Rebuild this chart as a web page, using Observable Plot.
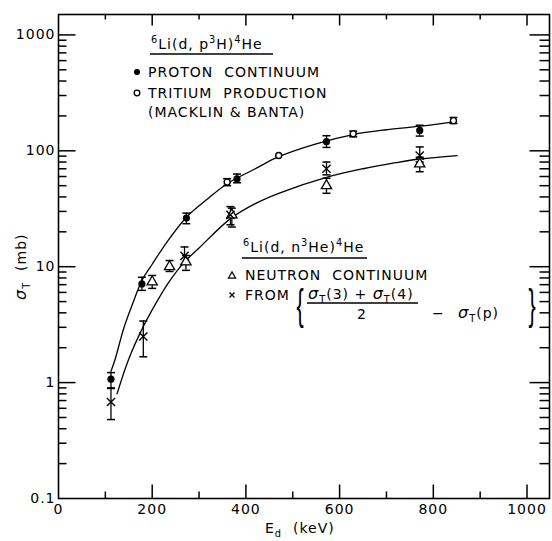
<!DOCTYPE html>
<html><head><meta charset="utf-8">
<script src="https://cdn.jsdelivr.net/npm/d3@7"></script>
<script src="https://cdn.jsdelivr.net/npm/@observablehq/plot@0.6"></script>
<style>body{margin:0;background:#fff}</style>
</head><body><div id="chart"></div>
<script>
// ---- data ----
const protonE    = [112, 178, 273, 381, 572, 771];
const protonV    = [1.07, 7.1, 26.3, 57.4, 120, 150];
const protonLo   = [0.89, 6.25, 23.5, 53, 107, 134];
const protonHi   = [1.22, 8.1, 29, 63, 135, 166];

const tritiumE   = [360, 470, 629, 843];
const tritiumV   = [53.7, 91, 140, 182];
const tritiumLo  = [50, null, 132, 172];
const tritiumHi  = [57.5, null, 148, 194];

const neutronE   = [200, 237, 272, 370, 572, 771];
const neutronV   = [7.4, 10, 11, 28, 50, 77];
const neutronLo  = [6.5, 9.1, 9.3, 22, 43, 66];
const neutronHi  = [8.4, 11.3, 12.5, 32, 58, 88];

const fromE      = [112, 181, 269, 367, 572, 771];
const fromV      = [0.68, 2.5, 12.4, 28, 70, 91];
const fromLo     = [0.48, 1.67, 10.5, 23, 62, 80];
const fromHi     = [0.9, 3.4, 14.8, 33, 80, 108];

const curvePE = [112, 121, 140, 160, 178, 200, 230, 274, 320, 360, 420, 470, 550, 629, 700, 771, 843];
const curvePV = [1.25, 1.6, 3.0, 5.0, 7.6, 10.5, 16, 27, 39, 52, 70, 89, 115, 138, 152, 163, 178];
const curveNE = [125, 150, 182, 210, 237, 269, 300, 367, 420, 470, 572, 650, 720, 771, 851];
const curveNV = [0.8, 1.6, 3.1, 5.0, 7.5, 11, 14.5, 26, 35, 43, 59, 70, 79, 85, 91];

const xLabelTicks = [0, 200, 400, 600, 800, 1000];
const xMajorTicks = [200, 400, 600, 800, 1000];
const xMinorTicks = [100, 300, 500, 700, 900];
const yLabelTicks = [0.1, 1, 10, 100, 1000];
const yMajorTicks = [1, 10, 100, 1000];
const yMinorTicks = [0.2,0.3,0.4,0.5,0.6,0.7,0.8,0.9, 2,3,4,5,6,7,8,9, 20,30,40,50,60,70,80,90, 200,300,400,500,600,700,800,900];

// ---- tables ----
const mk = (E, V, Lo, Hi) => E.map((e, i) => ({e, v: V[i], lo: Lo[i], hi: Hi[i]}));
const proton = mk(protonE, protonV, protonLo, protonHi);
const tritium = mk(tritiumE, tritiumV, tritiumLo, tritiumHi);
const neutron = mk(neutronE, neutronV, neutronLo, neutronHi);
const fromX = mk(fromE, fromV, fromLo, fromHi);
const curveP = curvePE.map((e, i) => ({e, v: curvePV[i]}));
const curveN = curveNE.map((e, i) => ({e, v: curveNV[i]}));
const allBars = [...proton, ...tritium, ...neutron, ...fromX];

// custom line symbols
const seg = (dx, dy) => ({draw(ctx) { ctx.moveTo(0, 0); ctx.lineTo(dx, dy); }});
const cap = {draw(ctx) { ctx.moveTo(-4, 0); ctx.lineTo(4, 0); }};
const tk = {fill: "none", stroke: "black", strokeWidth: 1.5};

const FONT = "DejaVu Sans";

const plot = Plot.plot({
  width: 552, height: 541,
  marginLeft: 58, marginRight: 3, marginTop: 14, marginBottom: 43,
  style: {fontFamily: FONT, fontSize: "14px", letterSpacing: "1px", background: "white", color: "black"},
  x: {domain: [0, 1048]},
  y: {type: "log", domain: [0.1, 1500]},
  marks: [
    Plot.frame({stroke: "black", strokeWidth: 1.6}),
    Plot.axisX({ticks: xLabelTicks, tickSize: 0, tickPadding: 6, label: null, tickFormat: d => String(d)}),
    Plot.axisY({ticks: yLabelTicks, tickSize: 0, tickPadding: 3, label: null, tickFormat: d => String(d)}),
    // inward ticks
    Plot.dot(xMajorTicks, {x: d => d, frameAnchor: "bottom", symbol: seg(0, -14), ...tk}),
    Plot.dot(xMinorTicks, {x: d => d, frameAnchor: "bottom", symbol: seg(0, -7), ...tk}),
    Plot.dot(xMajorTicks, {x: d => d, frameAnchor: "top", symbol: seg(0, 11), ...tk}),
    Plot.dot(xMinorTicks, {x: d => d, frameAnchor: "top", symbol: seg(0, 5), ...tk}),
    Plot.dot(yMajorTicks, {y: d => d, frameAnchor: "left", symbol: seg(17, 0), ...tk}),
    Plot.dot(yMinorTicks, {y: d => d, frameAnchor: "left", symbol: seg(8, 0), ...tk}),
    Plot.dot(yMajorTicks, {y: d => d, frameAnchor: "right", symbol: seg(-20, 0), ...tk}),
    Plot.dot(yMinorTicks, {y: d => d, frameAnchor: "right", symbol: seg(-10, 0), ...tk}),
    // curves
    Plot.line(curveP, {x: "e", y: "v", curve: "catmull-rom", stroke: "black", strokeWidth: 1.3}),
    Plot.line(curveN, {x: "e", y: "v", curve: "catmull-rom", stroke: "black", strokeWidth: 1.3}),
    // error bars
    Plot.ruleX(allBars.filter(d => d.lo != null), {x: "e", y1: "lo", y2: "hi", stroke: "black", strokeWidth: 1.3}),
    Plot.dot(allBars.filter(d => d.lo != null), {x: "e", y: "lo", symbol: cap, fill: "none", stroke: "black", strokeWidth: 1.5}),
    Plot.dot(allBars.filter(d => d.hi != null), {x: "e", y: "hi", symbol: cap, fill: "none", stroke: "black", strokeWidth: 1.5}),
    // symbols
    Plot.dot(tritium, {x: "e", y: "v", r: 3, fill: "white", stroke: "black", strokeWidth: 1.4}),
    Plot.dot(proton, {x: "e", y: "v", r: 3.6, fill: "black"}),
    Plot.dot(neutron, {x: "e", y: "v", symbol: "triangle", r: 3.8, fill: "white", stroke: "black", strokeWidth: 1.3}),
    Plot.dot(fromX, {x: "e", y: "v", symbol: "times", r: 3.8, stroke: "black", strokeWidth: 1.4})
  ]
});

document.getElementById("chart").appendChild(plot);

// ---- annotations ----
const g = d3.select(plot).append("g")
  .attr("font-family", FONT).attr("font-size", 14).attr("fill", "black")
  .attr("letter-spacing", "1px").style("white-space", "pre");

function rich(x, y, parts, size = 14, anchor = "start") {
  const t = g.append("text").attr("x", x).attr("y", y).attr("font-size", size).attr("text-anchor", anchor);
  let off = 0;
  for (const [s, k] of parts) {
    const target = k === "sup" ? -Math.round(size * 0.45) : k === "sub" ? Math.round(size * 0.3) : 0;
    const ts = t.append("tspan").attr("dy", target - off).text(s);
    off = target;
    if (k === "sup" || k === "sub") ts.attr("font-size", size * 0.7);
    if (k === "i") ts.attr("font-style", "italic").attr("font-size", size * 1.15);
  }
  return t;
}
function hline(x1, x2, y, w = 1.5) {
  g.append("line").attr("x1", x1).attr("x2", x2).attr("y1", y).attr("y2", y)
    .attr("stroke", "black").attr("stroke-width", w);
}
function brace(ch, x, yc) {
  g.append("text").attr("transform", `translate(${x},${yc}) scale(0.8,1.6)`)
    .attr("x", 0).attr("y", 8).attr("font-size", 27).attr("text-anchor", "middle")
    .attr("font-family", "Liberation Sans").attr("letter-spacing", "0px").text(ch);
}

// legend 1
rich(151, 49, [["6", "sup"], ["Li(d, p", "n"], ["3", "sup"], ["H)", "n"], ["4", "sup"], ["He", "n"]]);
hline(150, 273, 54);
g.append("circle").attr("cx", 137).attr("cy", 72).attr("r", 3).attr("fill", "black");
rich(148, 77, [["PROTON  CONTINUUM", "n"]]);
g.append("circle").attr("cx", 137).attr("cy", 93).attr("r", 2.8).attr("fill", "white").attr("stroke", "black").attr("stroke-width", 1.3);
rich(148, 98, [["TRITIUM  PRODUCTION", "n"]]);
rich(148, 117, [["(MACKLIN & BANTA)", "n"]]);

// legend 2
rich(243, 252, [["6", "sup"], ["Li(d, n", "n"], ["3", "sup"], ["He)", "n"], ["4", "sup"], ["He", "n"]]);
hline(242, 367, 258);
g.append("path").attr("d", d3.symbol(d3.symbolTriangle, 22)()).attr("transform", "translate(232,276)")
  .attr("fill", "white").attr("stroke", "black").attr("stroke-width", 1.2);
rich(245, 280, [["NEUTRON  CONTINUUM", "n"]]);
g.append("path").attr("d", "M-2.5,-2.5L2.5,2.5M-2.5,2.5L2.5,-2.5").attr("transform", "translate(232,295)")
  .attr("stroke", "black").attr("stroke-width", 1.3);
rich(245, 300, [["FROM", "n"]]);
brace("{", 300, 306);
rich(308, 299, [["σ", "i"], ["T", "sub"], ["(3) + ", "n"], ["σ", "i"], ["T", "sub"], ["(4)", "n"]]);
hline(307, 418, 303, 1.4);
rich(362, 319, [["2", "n"]], 14, "middle");
rich(432, 318, [["−", "n"]]);
rich(458, 318, [["σ", "i"], ["T", "sub"], ["(p)", "n"]]);
brace("}", 532, 306);

// axis titles
rich(265, 533, [["E", "n"], ["d", "sub"], ["  (keV)", "n"]]);
const yl = rich(0, 0, [["σ", "i"], ["T", "sub"], ["  (mb)", "n"]]);
yl.attr("transform", "translate(26,300) rotate(-90)");
</script>
</body></html>
